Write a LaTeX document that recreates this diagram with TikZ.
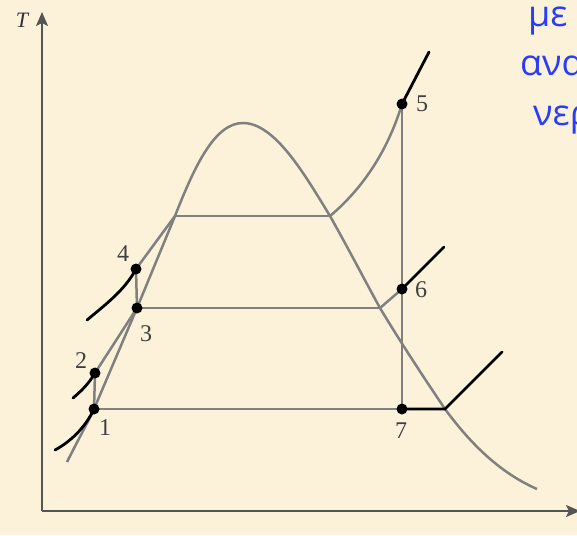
\documentclass[tikz,border=0pt]{standalone}
\usepackage{fontspec}
\setmainfont{Liberation Serif}
\newfontfamily\greekfont{Open Sans}
\usetikzlibrary{arrows.meta}
\definecolor{bg}{RGB}{252,242,218}
\definecolor{ln}{RGB}{128,128,128}
\definecolor{ax}{RGB}{85,85,85}
\definecolor{gblue}{RGB}{40,60,250}
\begin{document}
\begin{tikzpicture}[x=1pt,y=-1pt,
  thinline/.style={draw=ln, line width=2.5pt},
  thickline/.style={draw=black, line width=2.8pt, line cap=round},
  axisline/.style={draw=ax, line width=1.8pt, -{Stealth[length=14pt,width=12pt,inset=3pt]}},
  statelabel/.style={font=\fontsize{24}{24}\selectfont, text=black!75, inner sep=0},
  gtext/.style={font=\greekfont\fontsize{36}{36}\selectfont, text=gblue, anchor=base west, inner sep=0}]
\fill[bg] (0,0) rectangle (577,535);
\useasboundingbox (0,0) rectangle (577,535);
\clip (0,0) rectangle (577,535);
% state points
\coordinate (p1) at (94,409);
\coordinate (p2) at (95,373);
\coordinate (p3) at (137,308);
\coordinate (p4) at (136,269);
\coordinate (p5) at (402,104);
\coordinate (p6) at (402,289);
\coordinate (p7) at (402,409);
% dome and auxiliary points
\coordinate (dl) at (67,462);
\coordinate (sl) at (175,216);
\coordinate (top) at (243,123);
\coordinate (sv) at (330,216);
\coordinate (mv) at (380,308);
\coordinate (lv) at (445,409);
\coordinate (dr) at (537,489);
% free ends of black lines
\coordinate (e1) at (55,450);
\coordinate (e2) at (73,398);
\coordinate (e4) at (87,320);
\coordinate (e5) at (429,52);
\coordinate (e6) at (444,247);
\coordinate (e7) at (502,352);
% axes
\coordinate (o) at (42,511);
\coordinate (ty) at (42,12);
\coordinate (sx) at (580,511);
\draw[axisline] (o) -- (ty);
\draw[axisline] (o) -- (sx);
\node[font=\itshape\fontsize{22}{22}\selectfont, text=black!80, inner sep=0] (T) at (22,20) {T};
% saturation dome
\draw[thinline] (dl) .. controls (78,440) and (88,422) .. (p1) -- (p3) -- (sl)
  .. controls (195,165) and (215,123) .. (top)
  .. controls (275,123) and (305,175) .. (sv)
  .. controls (347,246) and (363,277) .. (mv)
  .. controls (398,338) and (422,375) .. (lv)
  .. controls (475,450) and (505,475) .. (dr);
% cycle lines
\draw[thinline] (p1) -- (p7);
\draw[thinline] (p1) -- (p2);
\draw[thinline] (p2) -- (p3);
\draw[thinline] (p3) -- (p4);
\draw[thinline] (p4) -- (sl);
\draw[thinline] (sl) -- (sv);
\draw[thinline] (p3) -- (mv);
\draw[thinline] (mv) -- (p6);
\draw[thinline] (sv) .. controls (355,195) and (385,160) .. (p5);
\draw[thinline] (p5) -- (p7);
% black pressure lines
\draw[thickline] (p5) -- (e5);
\draw[thickline] (p6) -- (e6);
\draw[thickline] (p7) -- (lv) -- (e7);
\draw[thickline] (e4) .. controls (105,305) and (125,290) .. (p4);
\draw[thickline] (e2) .. controls (80,392) and (88,385) .. (p2);
\draw[thickline] (e1) .. controls (70,442) and (85,428) .. (p1);
% dots
\foreach \p in {p1,p2,p3,p4,p5,p6,p7} \fill (\p) circle (5.5pt);
% labels
\node[statelabel] (l1) at (105,428) {1};
\node[statelabel] (l2) at (81,361) {2};
\node[statelabel] (l3) at (146,334) {3};
\node[statelabel] (l4) at (123,254) {4};
\node[statelabel] (l5) at (422,104) {5};
\node[statelabel] (l6) at (421,290) {6};
\node[statelabel] (l7) at (401,431) {7};
% greek text
\node[gtext] (g1) at (528,27) {με};
\node[gtext] (g2) at (520,75) {ανα};
\node[gtext] (g3) at (533,125) {νερ};
\end{tikzpicture}
\end{document}
